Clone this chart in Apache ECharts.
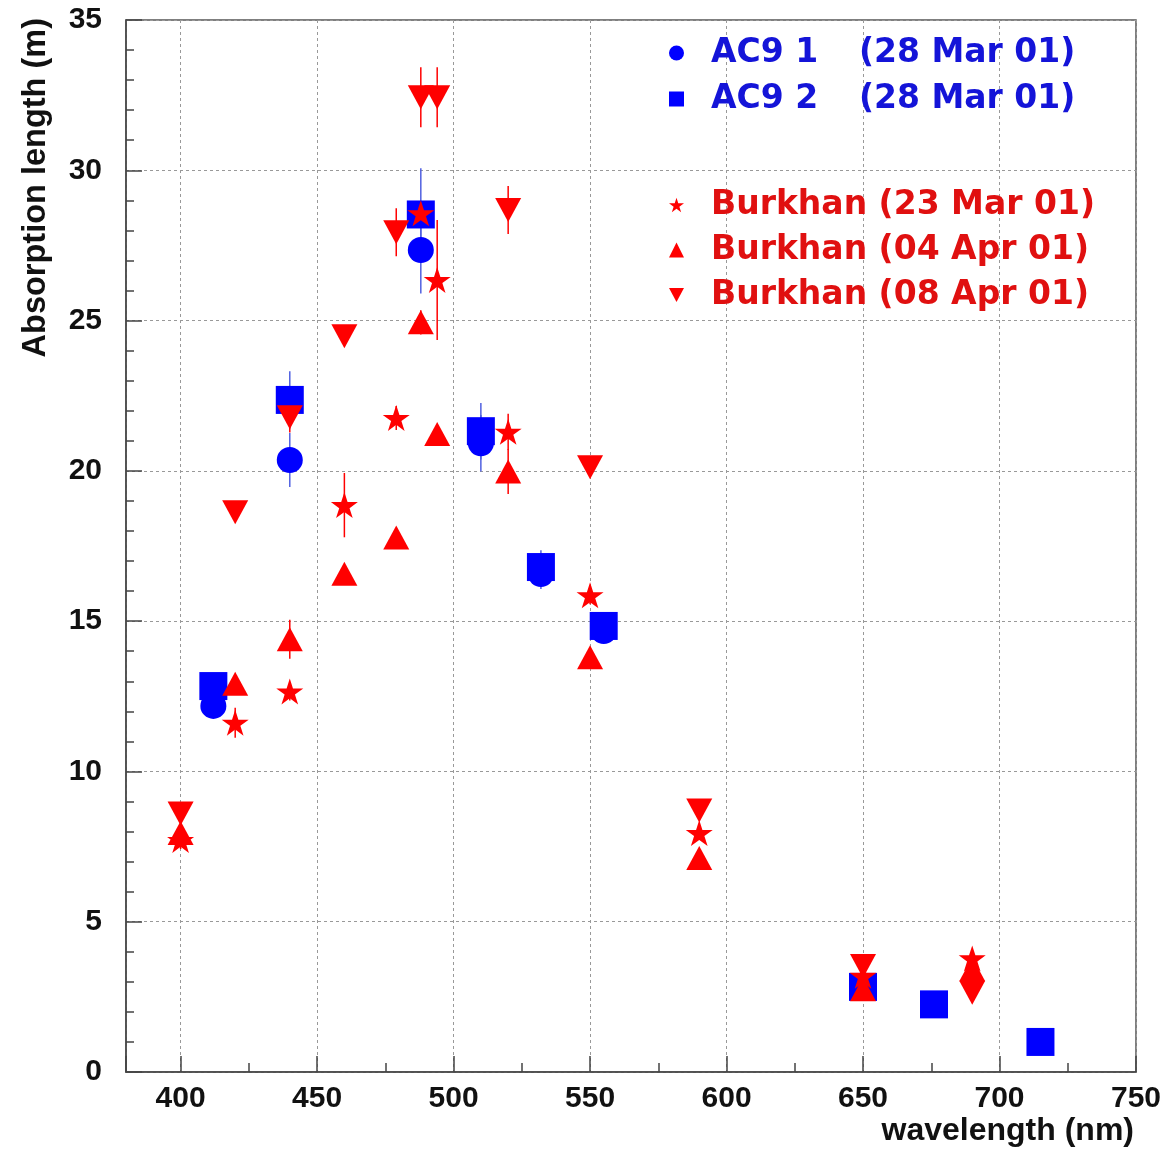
<!DOCTYPE html>
<html>
<head>
<meta charset="utf-8">
<script src="https://cdn.jsdelivr.net/npm/echarts@6/dist/echarts.min.js"></script>
<style>html,body{margin:0;padding:0;background:#fff}#c{width:1169px;height:1153px}</style>
</head>
<body>
<div id="c"></div>
<script>
// ---- data ----
const xAC9 = [412, 440, 488, 510, 532, 555, 650, 676, 715];
const yAC9_1 = [12.18, 20.36, 27.35, 20.92, 16.57, 14.67, 2.80, 2.25, 1.00];
const eAC9_1 = [0.3, 0.9, 1.45, 0.94, 0.5, 0.3, 0.1, 0.1, 0.1];
const yAC9_2 = [12.84, 22.36, 28.53, 21.32, 16.80, 14.84, 2.83, 2.25, 1.00];
const eAC9_2 = [0.3, 0.95, 1.54, 0.94, 0.56, 0.3, 0.1, 0.1, 0.1];

const xBurk = [400, 420, 440, 460, 479, 488, 494, 520, 550, 590, 650, 690];
const yStar = [7.72, 11.62, 12.66, 18.86, 21.76, 28.57, 26.35, 21.30, 15.86, 7.95, 3.20, 3.78];
const eStar = [0.3, 0.5, 0.3, 1.07, 0.4, 0.3, 2.0, 0.6, 0.3, 0.2, 0.2, 0.3];
const yUp = [7.95, 12.92, 14.40, 16.58, 17.78, 24.94, 21.23, 19.98, 13.80, 7.12, 2.75, 3.42];
const eUp = [0.2, 0.3, 0.65, 0.3, 0.3, 0.4, 0.3, 0.75, 0.3, 0.2, 0.15, 0.2];
const yDown = [8.60, 18.62, 21.78, 24.48, 27.94, 32.43, 32.43, 28.68, 20.12, 8.70, 3.53, 2.64];
const eDown = [0.2, 0.3, 0.5, 0.3, 0.8, 1.0, 1.0, 0.8, 0.3, 0.2, 0.2, 0.2];

const names = {
  ac1: 'AC9 1 (28 Mar 01)',
  ac2: 'AC9 2 (28 Mar 01)',
  s23: 'Burkhan (23 Mar 01)',
  u04: 'Burkhan (04 Apr 01)',
  d08: 'Burkhan (08 Apr 01)'
};
const xTicks = [400, 450, 500, 550, 600, 650, 700, 750];

const BLUE = '#0000ff', RED = '#ff0000';
const STAR = 'path://M50,0 L61.23,34.55 L97.55,34.55 L68.17,55.9 L79.39,90.45 L50,69.1 L20.61,90.45 L31.83,55.9 L2.45,34.55 L38.77,34.55 Z';
const DOWN = 'path://M0,0 L26,0 L13,24 Z';

function pts(xs, ys) { return xs.map((x, i) => [x, ys[i]]); }
function errSeries(id, xs, ys, es, color, z) {
  return {
    type: 'custom', name: id, z: z, silent: true,
    data: xs.map((x, i) => [x, ys[i] - es[i], ys[i] + es[i]]),
    encode: { x: 0, y: [1, 2] },
    renderItem: function (params, api) {
      const lo = api.coord([api.value(0), api.value(1)]);
      const hi = api.coord([api.value(0), api.value(2)]);
      return { type: 'line', shape: { x1: lo[0], y1: lo[1], x2: hi[0], y2: hi[1] },
               style: { stroke: color, lineWidth: 1.5 } };
    }
  };
}
function scat(name, xs, ys, color, symbol, size, z) {
  return { type: 'scatter', name: name, data: pts(xs, ys), symbol: symbol, symbolSize: size,
           itemStyle: { color: color, opacity: 1 }, z: z, emphasis: { disabled: true } };
}

const legFont = { fontFamily: 'DejaVu Sans', fontWeight: 'bold', fontSize: 33, lineHeight: 40 };
function legendFormatter(name) {
  const i = name.indexOf(' (');
  const a = name.slice(0, i), b = name.slice(i + 1);
  if (name.indexOf('AC9') === 0) return '{p| }{a|' + a + '}{b|' + b + '}';
  return '{p| }{a|' + a + ' }{b|' + b + '}';
}
function legendRich(color) {
  return {
    p: Object.assign({ width: 22, color: color }, legFont),
    a: Object.assign({ color: color }, legFont),
    b: Object.assign({ color: color }, legFont)
  };
}
const richBlue = legendRich('#1414d8');
richBlue.a.width = 148;
const richRed = legendRich('#e01010');

const axisFont = { fontFamily: 'Liberation Sans', fontWeight: 'bold', fontSize: 30, color: '#111' };

const option = {
  backgroundColor: '#fff',
  animation: false,
  grid: { left: 126, right: 33, top: 20, bottom: 81, show: true, borderColor: '#555', borderWidth: 1.5 },
  legend: [
    { data: [{ name: names.ac1, icon: 'circle' }, { name: names.ac2, icon: 'rect' }],
      orient: 'vertical', left: 664, top: 28, itemWidth: 15, itemHeight: 15, itemGap: 6,
      selectedMode: false, formatter: legendFormatter,
      textStyle: Object.assign({ color: '#1414d8', rich: richBlue }, legFont) },
    { data: [{ name: names.s23, icon: STAR }, { name: names.u04, icon: 'triangle' }, { name: names.d08, icon: DOWN }],
      orient: 'vertical', left: 664, top: 180, itemWidth: 15, itemHeight: 15, itemGap: 5,
      selectedMode: false, formatter: legendFormatter,
      textStyle: Object.assign({ color: '#e01010', rich: richRed }, legFont) }
  ],
  xAxis: {
    type: 'value', min: 380, max: 750, splitNumber: 7, minInterval: 50, maxInterval: 50,
    name: 'wavelength (nm)', nameLocation: 'end', nameGap: -2,
    nameTextStyle: { align: 'right', verticalAlign: 'top', padding: [43, 0, 0, 0], fontSize: 32,
      fontFamily: 'Liberation Sans', fontWeight: 'bold', color: '#111' },
    axisLine: { show: true, lineStyle: { color: '#444', width: 1.5 } },
    axisTick: { show: true, inside: true, length: 16, lineStyle: { color: '#444', width: 1.5 } },
    minorTick: { show: true, splitNumber: 2, length: 9, lineStyle: { color: '#444', width: 1.5 } },
    axisLabel: Object.assign({ margin: 12, showMinLabel: false,
      formatter: v => (xTicks.indexOf(v) >= 0 ? String(v) : '') }, axisFont),
    splitLine: { show: true, lineStyle: { color: '#999', type: [3, 3], width: 1 } }
  },
  yAxis: {
    type: 'value', min: 0, max: 35, interval: 5,
    name: 'Absorption length (m)', nameLocation: 'end', nameGap: 2, nameRotate: 90,
    nameTextStyle: { align: 'right', verticalAlign: 'bottom', padding: [0, 0, 73, 0],
      fontFamily: 'Liberation Sans', fontWeight: 'bold', fontSize: 32.5, color: '#111' },
    axisLine: { show: true, lineStyle: { color: '#444', width: 1.5 } },
    axisTick: { show: true, inside: true, length: 16, lineStyle: { color: '#444', width: 1.5 } },
    minorTick: { show: true, splitNumber: 5, length: 8, lineStyle: { color: '#444', width: 1.5 } },
    axisLabel: Object.assign({ margin: 24 }, axisFont),
    splitLine: { show: true, lineStyle: { color: '#999', type: [3, 3], width: 1 } }
  },
  series: [
    errSeries('e1', xAC9, yAC9_1, eAC9_1, '#5060e0', 1),
    errSeries('e2', xAC9, yAC9_2, eAC9_2, '#5060e0', 1),
    errSeries('e3', xBurk, yStar, eStar, RED, 1),
    errSeries('e4', xBurk, yUp, eUp, RED, 1),
    errSeries('e5', xBurk, yDown, eDown, RED, 1),
    scat(names.ac1, xAC9, yAC9_1, BLUE, 'circle', 26, 3),
    scat(names.ac2, xAC9, yAC9_2, BLUE, 'rect', 28, 4),
    scat(names.s23, xBurk, yStar, RED, STAR, [27, 26], 5),
    scat(names.u04, xBurk, yUp, RED, 'triangle', [26, 24], 6),
    scat(names.d08, xBurk, yDown, RED, DOWN, [26, 24], 7)
  ]
};
const chart = echarts.init(document.getElementById('c'), null, { renderer: 'canvas' });
chart.setOption(option);
</script>
</body>
</html>
